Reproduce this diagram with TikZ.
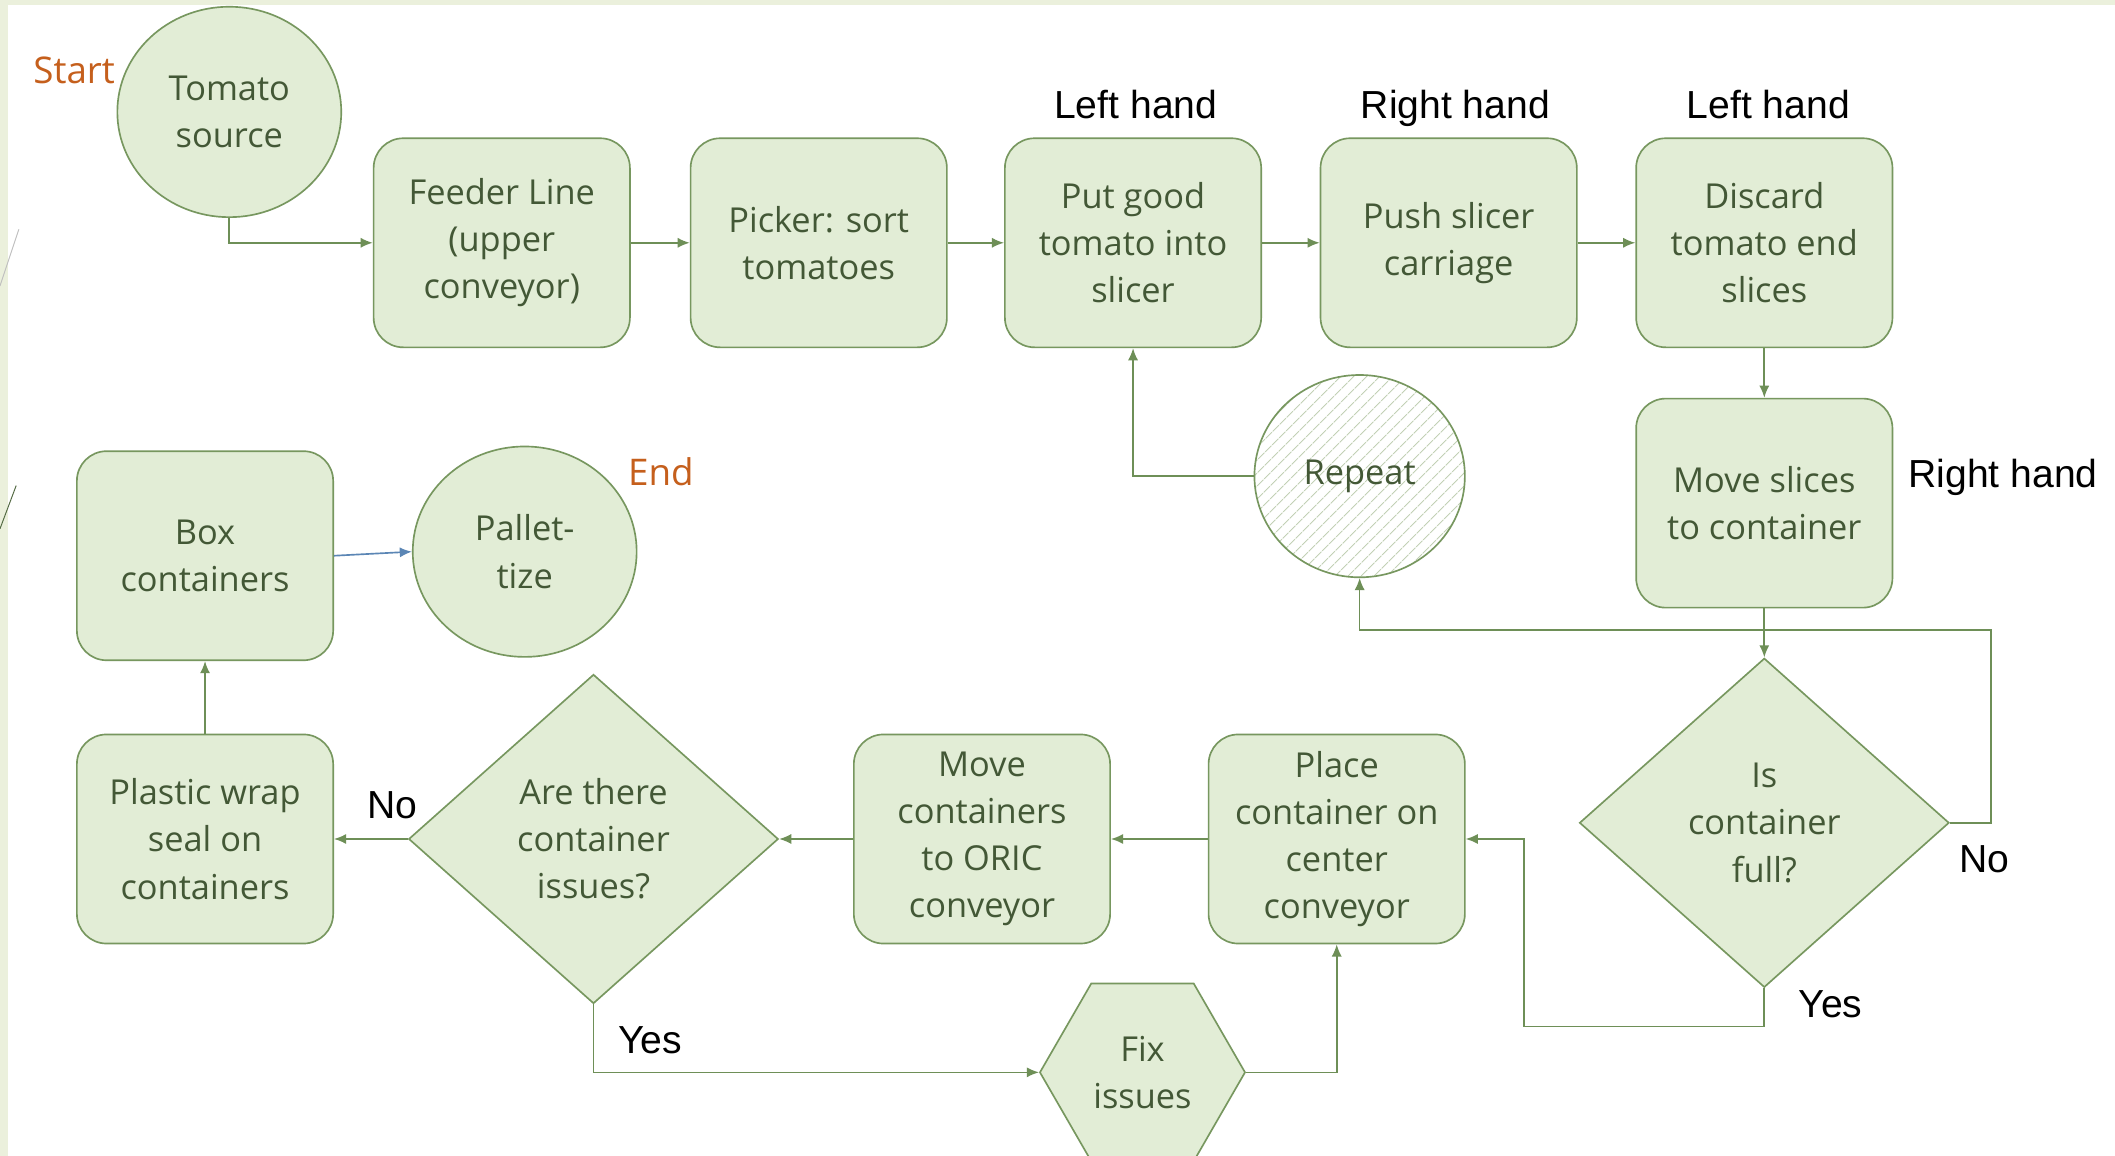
\documentclass[tikz,border=0pt]{standalone}
\usepackage{fontspec}
\setmainfont{Open Sans}
\newfontfamily\handfont{Liberation Sans}
\usetikzlibrary{shapes.geometric,arrows.meta,patterns.meta}
\definecolor{boxfill}{HTML}{E2EDD6}
\definecolor{boxline}{HTML}{77975F}
\definecolor{boxtext}{HTML}{435836}
\definecolor{flow}{HTML}{6E8F57}
\definecolor{startend}{HTML}{C55F1C}
\definecolor{slide}{HTML}{EBF0DC}
\definecolor{hatch}{HTML}{C3D1B6}
\definecolor{bluearrow}{HTML}{5B86B5}
\newcommand\flowfont{\fontsize{14.5pt}{19.9pt}\selectfont}
\begin{document}
\begin{tikzpicture}[x=0.2mm,y=-0.2mm,
  task/.style={draw=boxline,fill=boxfill,line width=0.7pt,rounded corners=4.4mm,
    minimum width=38mm,minimum height=31mm,inner sep=0,
    text=boxtext,align=center,font=\flowfont},
  disc/.style={ellipse,draw=boxline,fill=boxfill,line width=0.7pt,
    minimum width=33.2mm,minimum height=31.2mm,inner sep=0,
    text=boxtext,align=center,font=\flowfont},
  decision/.style={diamond,draw=boxline,fill=boxfill,line width=0.7pt,
    minimum width=54.8mm,minimum height=48.8mm,inner sep=0,
    text=boxtext,align=center,font=\flowfont},
  hexa/.style={regular polygon,regular polygon sides=6,draw=boxline,fill=boxfill,
    line width=0.7pt,minimum size=30.4mm,inner sep=0,
    text=boxtext,align=center,font=\flowfont},
  hand/.style={font=\handfont\fontsize{16.5pt}{18pt}\selectfont,
    text height=1.5ex,text depth=0.5ex},
  ends/.style={text=startend,font=\fontsize{15.5pt}{18pt}\selectfont},
  arr/.style={draw=flow,line width=0.7pt,-{Latex[length=1.8mm,width=1.5mm]}}]
  \clip (0,0) rectangle (1568,857);

  %%% slide background
  \fill[white] (0,0) rectangle (1568,857);
  \fill[slide] (0,0) rectangle (1568,4);
  \fill[slide] (0,0) rectangle (6,857);
  \draw[black!25] (0,212) -- (14,170);
  \draw[boxline!70!black] (0,392) -- (12,360);

  %%% top row
  \node[disc] (src) at (170,83) {Tomato\\source};
  \node[ends] (start) at (55,52) {Start};
  \node[task] (feed) at (372,180) {Feeder Line\\(upper\\conveyor)};
  \node[task] (pick) at (607,180) {Picker: sort\\tomatoes};
  \node[task] (put) at (840,180) {Put good\\tomato into\\slicer};
  \node[task] (push) at (1074,180) {Push slicer\\carriage};
  \node[task] (discard) at (1308,180) {Discard\\tomato end\\slices};
  \node[hand] (lh1) at (842,83) {Left hand};
  \node[hand] (rh1) at (1079,83) {Right hand};
  \node[hand] (lh2) at (1311,83) {Left hand};

  %%% middle row
  \node[ellipse,draw=boxline,line width=0.7pt,minimum width=31.2mm,minimum height=30mm,
    inner sep=0,preaction={fill=white},
    pattern={Lines[angle=45,distance=4pt,line width=0.5pt]},pattern color=hatch,
    text=boxtext,font=\flowfont] (rep) at (1008,353) {Repeat};
  \node[task] (move) at (1308,373) {Move slices\\to container};
  \node[hand] (rh2) at (1485,357) {Right hand};
  \node[task] (box) at (152,412) {Box\\containers};
  \node[disc] (pallet) at (389,409) {Pallet-\\tize};
  \node[ends] (end) at (490,350) {End};

  %%% bottom row
  \node[decision] (full) at (1308,610) {Is\\container\\full?};
  \node[task] (place) at (991,622) {Place\\container on\\center\\conveyor};
  \node[task] (oric) at (728,622) {Move\\containers\\to ORIC\\conveyor};
  \node[decision] (issue) at (440,622) {Are there\\container\\issues?};
  \node[task] (wrap) at (152,622) {Plastic wrap\\seal on\\containers};
  \node[hexa] (fix) at (847,795) {Fix\\issues};
  \node[hand] (no1) at (291,602) {No};
  \node[hand] (yes1) at (482,776) {Yes};
  \node[hand] (no2) at (1471,642) {No};
  \node[hand] (yes2) at (1357,750) {Yes};

  %%% bends
  \coordinate (nobend) at (1476,467);
  \coordinate (yesbend) at (1130,761);

  %%% connectors
  \draw[arr] (src.south) |- (feed.west);
  \draw[arr] (feed) -- (pick);
  \draw[arr] (pick) -- (put);
  \draw[arr] (put) -- (push);
  \draw[arr] (push) -- (discard);
  \draw[arr] (discard) -- (move);
  \draw[arr] (move) -- (full);
  \draw[arr] (full.east) -| (nobend) -| (rep.south);
  \draw[arr] (rep.west) -| (put.south);
  \draw[arr] (full.south) |- (yesbend) |- (place.east);
  \draw[arr] (place) -- (oric);
  \draw[arr] (oric) -- (issue);
  \draw[arr] (issue) -- (wrap);
  \draw[arr] (issue.south) |- (fix.west);
  \draw[arr] (fix.east) -| (place.south);
  \draw[arr] (wrap) -- (box);
  \draw[arr,draw=bluearrow] (box.east) -- (pallet.west);
\end{tikzpicture}
\end{document}
